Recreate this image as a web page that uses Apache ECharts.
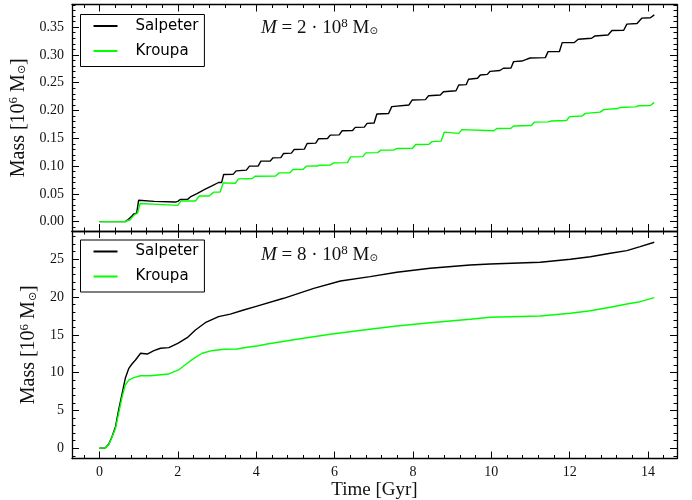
<!DOCTYPE html>
<html>
<head>
<meta charset="utf-8">
<script src="https://cdn.jsdelivr.net/npm/echarts@6/dist/echarts.min.js"></script>
<style>
  html, body { margin: 0; padding: 0; background: #fff; }
  #chart { width: 692px; height: 500px; }
</style>
</head>
<body>
<div id="chart"></div>
<script>
// Tick labels
const timeTicks = [0, 2, 4, 6, 8, 10, 12, 14];
const massTicksLow = [0, 0.05, 0.10, 0.15, 0.20, 0.25, 0.30, 0.35];
const massTicksHigh = [0, 5, 10, 15, 20, 25];
const seriesNames = ['Salpeter', 'Kroupa'];

// Accumulated mass [10^6 Msun] vs time [Gyr], M = 2e8 Msun
const salpeterLow = [
  [0, 0], [0.66, 0], [0.72, 0.003], [0.77, 0.004], [0.83, 0.010], [0.88, 0.014], [0.95, 0.015],
  [1.0, 0.0384], [1.4, 0.0365], [1.93, 0.0352], [2.0, 0.0365], [2.06, 0.0397], [2.25, 0.0400],
  [2.32, 0.0444], [2.49, 0.0505], [2.70, 0.0583], [2.87, 0.0642], [3.04, 0.0704], [3.12, 0.0705],
  [3.17, 0.0848], [3.41, 0.0850], [3.49, 0.0913], [3.75, 0.0926], [3.83, 0.0998],
  [4.05, 0.1000], [4.12, 0.1088], [4.36, 0.1092], [4.43, 0.1148], [4.63, 0.1152], [4.70, 0.1227],
  [4.90, 0.1232], [4.97, 0.1299], [5.23, 0.1305], [5.30, 0.1407], [5.52, 0.1412], [5.59, 0.1491],
  [5.82, 0.1495], [5.89, 0.1557], [6.12, 0.1562], [6.19, 0.1635], [6.46, 0.1640], [6.53, 0.1696],
  [6.76, 0.1700], [6.83, 0.1768], [7.01, 0.1775], [7.08, 0.1936], [7.38, 0.1945], [7.46, 0.2070],
  [7.90, 0.2100], [7.98, 0.2188], [8.32, 0.2195], [8.40, 0.2266], [8.70, 0.2280], [8.78, 0.2338],
  [9.10, 0.2355], [9.17, 0.2459], [9.36, 0.2465], [9.42, 0.2562], [9.65, 0.2580], [9.72, 0.2639],
  [9.90, 0.2650], [9.97, 0.2705], [10.22, 0.2720], [10.31, 0.2760], [10.50, 0.2762], [10.57, 0.2880],
  [10.78, 0.2890], [10.88, 0.2915], [10.99, 0.2945], [11.38, 0.2952], [11.45, 0.3060], [11.74, 0.3062],
  [11.81, 0.3222], [12.12, 0.3225], [12.22, 0.3283], [12.56, 0.3300], [12.64, 0.3340], [12.98, 0.3360],
  [13.08, 0.3439], [13.38, 0.3445], [13.46, 0.3554], [13.72, 0.3565], [13.84, 0.3662], [14.06, 0.3670],
  [14.16, 0.3722]
];
const kroupaLow = [
  [0, 0], [0.66, 0], [0.72, 0.002], [0.78, 0.003], [0.84, 0.008], [0.90, 0.013], [0.97, 0.015],
  [1.04, 0.0325], [1.5, 0.0310], [2.0, 0.0292], [2.08, 0.0370], [2.45, 0.0372], [2.55, 0.0460],
  [2.80, 0.0462], [2.92, 0.0530], [3.08, 0.0532], [3.16, 0.0697], [3.47, 0.0690], [3.55, 0.0770],
  [3.90, 0.0775], [3.97, 0.0817], [4.50, 0.0820], [4.58, 0.0877], [4.86, 0.0880], [4.94, 0.0938],
  [5.20, 0.0942], [5.28, 0.0998], [5.55, 0.1000], [5.62, 0.1015], [5.90, 0.1020], [5.98, 0.1057],
  [6.33, 0.1062], [6.41, 0.1165], [6.72, 0.1170], [6.80, 0.1238], [7.10, 0.1242], [7.18, 0.1286],
  [7.52, 0.1290], [7.60, 0.1317], [7.99, 0.1320], [8.07, 0.1389], [8.41, 0.1392], [8.49, 0.1440],
  [8.72, 0.1448], [8.80, 0.1610], [9.17, 0.1588], [9.25, 0.1655], [10.06, 0.1635], [10.15, 0.1677],
  [10.50, 0.1680], [10.57, 0.1722], [11.02, 0.1730], [11.10, 0.1790], [11.45, 0.1795], [11.52, 0.1810],
  [11.92, 0.1820], [12.00, 0.1890], [12.32, 0.1900], [12.40, 0.1948], [12.78, 0.1970], [12.87, 0.2015],
  [13.22, 0.2035], [13.30, 0.2055], [13.68, 0.2065], [13.76, 0.2085], [14.06, 0.2090], [14.16, 0.2147]
];

// Accumulated mass [10^6 Msun] vs time [Gyr], M = 8e8 Msun
const salpeterHigh = [
  [0, 0], [0.15, 0.05], [0.24, 0.57], [0.32, 1.53], [0.41, 2.86], [0.49, 5.07], [0.58, 7.27],
  [0.66, 9.26], [0.75, 10.58], [0.83, 11.15], [0.92, 11.68], [1.05, 12.57], [1.22, 12.47],
  [1.39, 12.91], [1.56, 13.23], [1.77, 13.32], [2.0, 13.89], [2.24, 14.63], [2.45, 15.65],
  [2.70, 16.61], [3.04, 17.41], [3.34, 17.74], [3.68, 18.29], [4.0, 18.78], [4.70, 19.84],
  [5.47, 21.16], [6.15, 22.13], [6.91, 22.70], [7.59, 23.28], [8.44, 23.81], [9.46, 24.25],
  [9.97, 24.38], [11.25, 24.60], [12.02, 25.0], [12.53, 25.34], [13.04, 25.79], [13.46, 26.14],
  [13.80, 26.67], [14.16, 27.25]
];
const kroupaHigh = [
  [0, 0], [0.15, 0.05], [0.24, 0.50], [0.32, 1.45], [0.41, 2.64], [0.49, 4.63], [0.58, 6.83],
  [0.66, 8.37], [0.75, 9.03], [0.875, 9.34], [1.05, 9.60], [1.30, 9.60], [1.77, 9.83],
  [2.02, 10.36], [2.24, 11.24], [2.41, 11.90], [2.62, 12.57], [2.87, 12.91], [3.17, 13.10],
  [3.51, 13.14], [3.77, 13.36], [4.06, 13.57], [4.28, 13.80], [5.04, 14.42], [5.89, 15.08],
  [6.74, 15.65], [7.59, 16.18], [8.44, 16.61], [9.46, 17.06], [9.97, 17.33], [11.25, 17.50],
  [12.02, 17.86], [12.53, 18.20], [13.04, 18.65], [13.46, 19.09], [13.80, 19.39], [14.16, 19.92]
];

const INK = '#000';
const SERIF = 'Liberation Serif';
const X_RANGE = [-0.7, 14.74];
const Y_RANGE_LOW = [-0.0169, 0.3908];
const Y_RANGE_HIGH = [-1.35, 28.74];

// Minor tick positions between the labelled ticks
function minorTicks(from, to, step, majors) {
  const out = [];
  const n = Math.round((to - from) / step);
  for (let i = 0; i <= n; i++) {
    const v = +(from + i * step).toFixed(4);
    if (!majors.some(m => Math.abs(m - v) < 1e-9)) out.push(v);
  }
  return out;
}
const timeMinor = minorTicks(-0.4, 14.4, 0.4, timeTicks);
const lowMinor = minorTicks(-0.01, 0.39, 0.01, massTicksLow);
const highMinor = minorTicks(-1, 28, 1, massTicksHigh);

function makeAxis(gridIndex, position, range, ticks, len, drawLine, label) {
  return {
    type: 'value', gridIndex: gridIndex, position: position,
    min: range[0], max: range[1],
    axisLine: { show: drawLine, onZero: false, lineStyle: { color: INK, width: 1.3 } },
    axisTick: { show: true, inside: true, length: len, customValues: ticks,
                lineStyle: { color: INK, width: 1 } },
    axisLabel: label
      ? Object.assign({ show: true, customValues: ticks, color: '#111',
                        fontFamily: SERIF, fontSize: 14 }, label)
      : { show: false },
    splitLine: { show: false },
    minorTick: { show: false },
    silent: true
  };
}

const subSup = {
  sup: { fontFamily: SERIF, fontSize: 13, color: '#111', padding: [0, 0, 9, 0] },
  sub: { fontFamily: 'DejaVu Sans', fontSize: 10, color: '#111', padding: [7, 0, 0, 0] },
  it: { fontFamily: SERIF, fontSize: 19, fontStyle: 'italic', color: '#111' }
};
const nameRich = {
  sup: { fontFamily: SERIF, fontSize: 13, color: '#111', padding: [0, 0, 10, 0] },
  sub: { fontFamily: 'DejaVu Sans', fontSize: 11, color: '#111', padding: [8, 0, 0, 0] }
};

function massName(axis) {
  return Object.assign(axis, {
    name: 'Mass [10{sup|6} M{sub|⊙}]',
    nameLocation: 'middle',
    nameGap: 30,
    nameTextStyle: { fontFamily: SERIF, fontSize: 20, color: '#111', rich: nameRich }
  });
}

const xAxes = [];
const yAxes = [];
[0, 1].forEach(g => {
  const bottomLabel = g === 1 ? { margin: 7 } : null;
  const xMain = makeAxis(g, 'bottom', X_RANGE, timeTicks, 7, true, bottomLabel);
  if (g === 1) {
    Object.assign(xMain, {
      name: 'Time [Gyr]', nameLocation: 'middle', nameGap: 20,
      nameTextStyle: { fontFamily: SERIF, fontSize: 19, color: '#111' }
    });
  }
  xAxes.push(
    xMain,
    makeAxis(g, 'bottom', X_RANGE, timeMinor, 3.5, false, null),
    makeAxis(g, 'top', X_RANGE, timeTicks, 7, true, null),
    makeAxis(g, 'top', X_RANGE, timeMinor, 3.5, false, null)
  );
  const range = g === 0 ? Y_RANGE_LOW : Y_RANGE_HIGH;
  const majors = g === 0 ? massTicksLow : massTicksHigh;
  const minors = g === 0 ? lowMinor : highMinor;
  const fmt = g === 0 ? (v => v.toFixed(2)) : (v => String(v));
  yAxes.push(
    massName(makeAxis(g, 'left', range, majors, 7, true, { margin: 8, formatter: fmt })),
    makeAxis(g, 'left', range, minors, 3.5, false, null),
    makeAxis(g, 'right', range, majors, 7, true, null),
    makeAxis(g, 'right', range, minors, 3.5, false, null)
  );
});

function lineSeries(name, data, g, color) {
  return {
    type: 'line', name: name, data: data,
    xAxisIndex: g * 4, yAxisIndex: g * 4,
    symbol: 'none', showSymbol: false,
    lineStyle: { color: color, width: 1.4 },
    itemStyle: { color: color },
    emphasis: { disabled: true },
    animation: false
  };
}

// Framed legend: short line sample followed by the label
function legendBox(top) {
  return {
    orient: 'vertical', left: 80.5, top: top,
    data: seriesNames,
    itemWidth: 24, itemHeight: 14, itemGap: 10,
    itemStyle: { opacity: 0 },
    padding: [4, 6, 8, 12],
    borderColor: INK, borderWidth: 1, borderRadius: 0,
    backgroundColor: '#fff',
    textStyle: { fontFamily: 'DejaVu Sans', fontSize: 15, color: '#000', padding: [0, 0, 0, 13] },
    selectedMode: false
  };
}

function massLabel(top, factor) {
  return {
    left: 256, top: top,
    text: '{it|M} = ' + factor + ' · 10{sup|8} M{sub|⊙}',
    textStyle: { fontFamily: SERIF, fontSize: 19, fontWeight: 'normal', color: '#111', rich: subSup }
  };
}

const chart = echarts.init(document.getElementById('chart'), null, { renderer: 'canvas' });
chart.setOption({
  animation: false,
  backgroundColor: '#fff',
  grid: [
    { left: 72, width: 605, top: 4.5, height: 226.5, outerBoundsMode: 'none' },
    { left: 72, width: 605, top: 231, height: 227.5, outerBoundsMode: 'none' }
  ],
  xAxis: xAxes,
  yAxis: yAxes,
  legend: [legendBox(14.5), legendBox(240)],
  title: [massLabel(12, '2'), massLabel(239, '8')],
  series: [
    lineSeries(seriesNames[0], salpeterLow, 0, '#000000'),
    lineSeries(seriesNames[1], kroupaLow, 0, '#00ff00'),
    lineSeries(seriesNames[0], salpeterHigh, 1, '#000000'),
    lineSeries(seriesNames[1], kroupaHigh, 1, '#00ff00')
  ]
});
</script>
</body>
</html>
